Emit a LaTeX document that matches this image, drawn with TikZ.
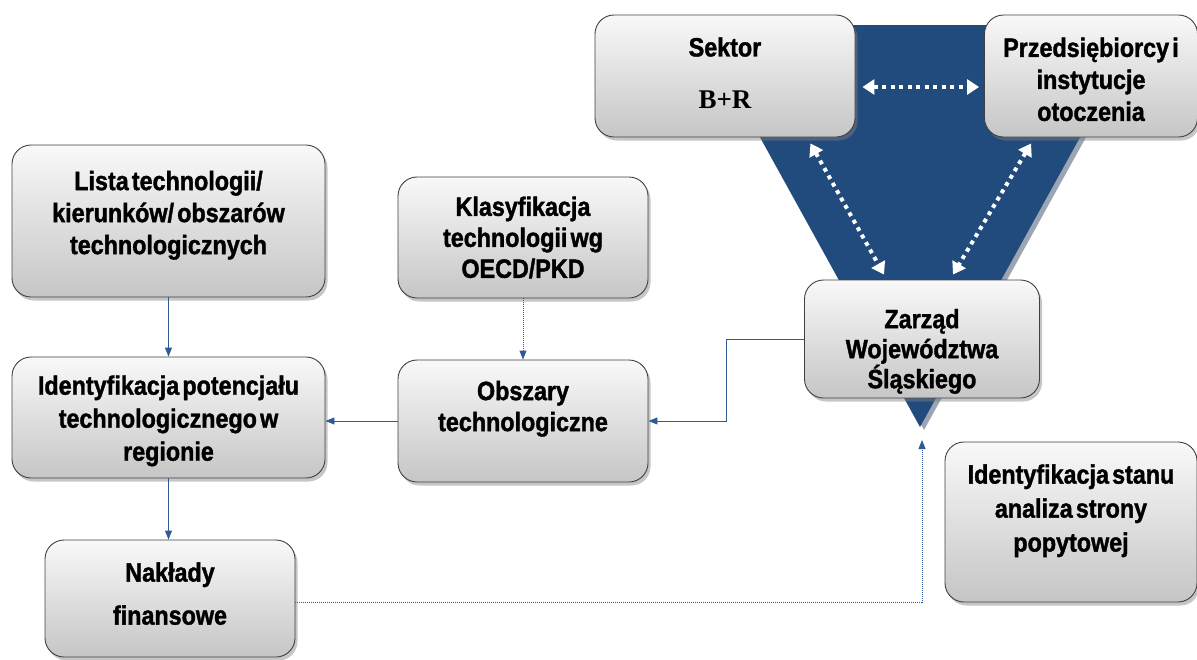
\documentclass[tikz,border=0pt]{standalone}
\usepackage{fontspec}
\setmainfont{Liberation Sans}[FakeStretch=0.88, BoldFeatures={FakeBold=1.4}]
\newfontfamily\serifbf{Liberation Serif}
\usetikzlibrary{arrows.meta,shadows,calc}
\definecolor{triblue}{HTML}{214A7D}
\definecolor{linkblue}{HTML}{2F5A93}
\newcommand\boxfont{\bfseries\fontsize{26.5}{31}\selectfont\spaceskip=0.12em plus 0.05em\relax}
\begin{document}
\begin{tikzpicture}[x=1pt,y=-1pt,
  box/.style={draw=black!75, line width=0.9pt, rounded corners=19pt,
    top color=gray!5, bottom color=gray!45,
    drop shadow={shadow xshift=2.5pt, shadow yshift=-3.5pt, opacity=0.45},
    align=center, inner sep=0pt, font=\boxfont},
  link/.style={draw=linkblue, line width=0.9pt, -{Triangle[length=9pt,width=7pt]}},
  dotlink/.style={link, dash pattern=on 1pt off 1pt},
  wlink/.style={draw=white, line width=4pt, dash pattern=on 4pt off 4.5pt,
    {Triangle[length=12pt,width=15pt]}-{Triangle[length=12pt,width=15pt]}}
]
\useasboundingbox (0,0) rectangle (1197,659);
% triangle with shadow
\fill[gray!60!triblue, opacity=0.6] (702,27) -- (1147,27) -- (924,430) -- cycle;
\fill[triblue] (698,25) -- (1142,25) -- (920,427) -- cycle;

% boxes
\node[box, minimum width=260pt, minimum height=122pt] (S) at (725,76) {};
\node[font=\boxfont] (St) at (725,47) {Sektor};
\node[font=\serifbf\bfseries\fontsize{27}{31}\selectfont] (Sb) at (725,100) {B+R};
\node[box, minimum width=213pt, minimum height=122pt] (P) at (1091,76) {\mbox{}\\[-5pt]Przedsiębiorcy i\\[1pt]instytucje\\[1pt]otoczenia};
\node[box, minimum width=235pt, minimum height=118pt] (Z) at (922,339) {\mbox{}\\[13pt]Zarząd\\[-1pt]Województwa\\[-1pt]Śląskiego};
\node[box, minimum width=252pt, minimum height=160pt] (IS) at (1071,522) {Identyfikacja stanu\\[3pt]analiza strony\\[3pt]popytowej\\[-3pt]};
\node[box, minimum width=313pt, minimum height=152pt] (L) at (168.5,221) {Lista technologii/\\[1pt]kierunków/ obszarów\\[1pt]technologicznych\\[-14pt]};
\node[box, minimum width=250pt, minimum height=121pt] (K) at (523,237.5) {Klasyfikacja\\technologii wg\\OECD/PKD};
\node[box, minimum width=250pt, minimum height=122pt] (O) at (523,421) {Obszary\\technologiczne\\[-1pt]};
\node[box, minimum width=313pt, minimum height=121pt] (IP) at (168.5,417.5) {\mbox{}\\[-5pt]Identyfikacja potencjału\\[2pt]technologicznego w\\[2pt]regionie};
\node[box, minimum width=250pt, minimum height=117pt] (N) at (170,598.5) {Nakłady\\[12pt]finansowe\\[-21pt]};

% white dotted relations
\draw[wlink] ([xshift=7pt,yshift=-11pt]S.east) -- ([xshift=-5pt,yshift=-11pt]P.west);
\draw[wlink] ([xshift=-45pt,yshift=-6pt]S.south east) -- ([xshift=-38pt,yshift=5pt]Z.north);
\draw[wlink] ([xshift=47pt,yshift=-6pt]P.south west) -- ([xshift=31pt,yshift=5pt]Z.north);

% connectors
\coordinate (tip) at (922,440);
\draw[link] (L.south) -- (IP.north);
\draw[dotlink] (K.south) -- (O.north);
\draw[link] (O.west) -- (O.west -| IP.east);
\draw[link] (Z.west) -- ++(-78,0) |- (O.east);
\draw[link] (IP.south) -- (IP.south |- N.north);
\draw[dotlink] ([yshift=-3.5pt]N.east) -| (tip);
\end{tikzpicture}
\end{document}
